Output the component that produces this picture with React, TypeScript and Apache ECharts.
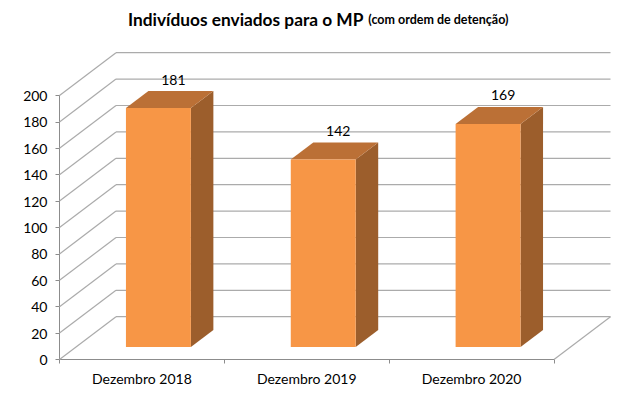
import React, { useEffect, useRef } from "react";
import * as echarts from "echarts";

const categories = ["Dezembro 2018", "Dezembro 2019", "Dezembro 2020"];
const values = [181, 142, 169];
const yTicks = [0, 20, 40, 60, 80, 100, 120, 140, 160, 180, 200];

const DEPTH_DX = 56.5;
const DEPTH_DY = -42.8;
const BAR_F1 = 0.292;
const BAR_F2 = 0.69;
const BAR_W = 0.394;

const FRONT = "#F79646";
const TOP = "#BB7036";
const SIDE = "#9C5E2C";
const GRID = "#ababab";
const FONT = "Lato, 'Noto Sans', sans-serif";

export default function App() {
  const ref = useRef<HTMLDivElement>(null);
  useEffect(() => {
    const chart = echarts.init(ref.current!, null, { renderer: "svg" });
    const option: any = {
      animation: false,
      backgroundColor: "#ffffff",
      title: {
        left: 128,
        top: 10,
        padding: 0,
        text: "{a|Indivíduos enviados para o MP} {b|(com ordem de detenção)}",
        textStyle: {
          rich: {
            a: { fontFamily: FONT, fontWeight: "bold", fontSize: 17.3, color: "#000" },
            b: { fontFamily: FONT, fontWeight: "bold", fontSize: 12.5, color: "#000" },
          },
        },
      },
      grid: { left: 59.5, right: 87, top: 95.5, bottom: 39.5 },
      xAxis: {
        type: "category",
        data: categories,
        axisLine: { show: true, lineStyle: { color: "#8c8c8c", width: 1 } },
        axisTick: { show: true, length: 4, lineStyle: { color: "#8c8c8c" } },
        axisLabel: { color: "#000", fontFamily: FONT, fontSize: 14, margin: 12 },
        splitLine: { show: false },
      },
      yAxis: {
        type: "value",
        min: 0,
        max: 200,
        interval: 20,
        axisLine: { show: true, lineStyle: { color: "#8c8c8c", width: 1 } },
        axisTick: { show: true, length: 4, lineStyle: { color: "#8c8c8c" } },
        axisLabel: { color: "#000", fontFamily: FONT, fontSize: 14, margin: 12 },
        splitLine: { show: false },
      },
      series: [
        {
          type: "custom",
          clip: false,
          z: 1,
          silent: true,
          data: yTicks.map((t) => [0, t]),
          renderItem: (params: any, api: any) => {
            const cs = params.coordSys;
            const t = api.value(1);
            const y = api.coord([0, t])[1];
            const x0 = cs.x;
            const x1 = cs.x + cs.width;
            const children: any[] = [
              {
                type: "line",
                shape: { x1: x0, y1: y, x2: x0 + DEPTH_DX, y2: y + DEPTH_DY },
                style: { stroke: GRID, lineWidth: 1.2 },
              },
              {
                type: "line",
                shape: { x1: x0 + DEPTH_DX, y1: y + DEPTH_DY, x2: x1 + DEPTH_DX, y2: y + DEPTH_DY },
                style: { stroke: GRID, lineWidth: 1.2 },
              },
            ];
            if (t === 0) {
              children.push({
                type: "line",
                shape: { x1: x1, y1: y, x2: x1 + DEPTH_DX, y2: y + DEPTH_DY },
                style: { stroke: GRID, lineWidth: 1.2 },
              });
            }
            return { type: "group", children };
          },
        },
        {
          type: "custom",
          clip: false,
          z: 5,
          data: values.map((v, i) => [i, v]),
          renderItem: (params: any, api: any) => {
            const i = api.value(0);
            const v = api.value(1);
            const base = api.coord([i, 0]);
            const top = api.coord([i, v]);
            const w = api.size([1, 0])[0] * BAR_W;
            const fx = base[0] + DEPTH_DX * BAR_F1;
            const fyB = base[1] + DEPTH_DY * BAR_F1;
            const fyT = top[1] + DEPTH_DY * BAR_F1;
            const bdx = DEPTH_DX * (BAR_F2 - BAR_F1);
            const bdy = DEPTH_DY * (BAR_F2 - BAR_F1);
            const l = fx - w / 2;
            const r = fx + w / 2;
            return {
              type: "group",
              children: [
                {
                  type: "polygon",
                  shape: { points: [[r, fyT], [r + bdx, fyT + bdy], [r + bdx, fyB + bdy], [r, fyB]] },
                  style: { fill: SIDE },
                },
                {
                  type: "polygon",
                  shape: { points: [[l, fyT], [l + bdx, fyT + bdy], [r + bdx, fyT + bdy], [r, fyT]] },
                  style: { fill: TOP },
                },
                {
                  type: "rect",
                  shape: { x: l, y: fyT, width: w, height: fyB - fyT },
                  style: { fill: FRONT },
                },
                {
                  type: "text",
                  z2: 10,
                  style: {
                    text: String(v),
                    x: fx + 15,
                    y: fyT - 29,
                    align: "center",
                    verticalAlign: "middle",
                    fontFamily: FONT,
                    fontSize: 14,
                    fill: "#000",
                  },
                },
              ],
            };
          },
        },
      ],
    };
    chart.setOption(option);
    return () => chart.dispose();
  }, []);
  return (
    <div
      ref={ref}
      style={{ position: "fixed", left: 0, top: 0, width: 641, height: 399 }}
    />
  );
}
